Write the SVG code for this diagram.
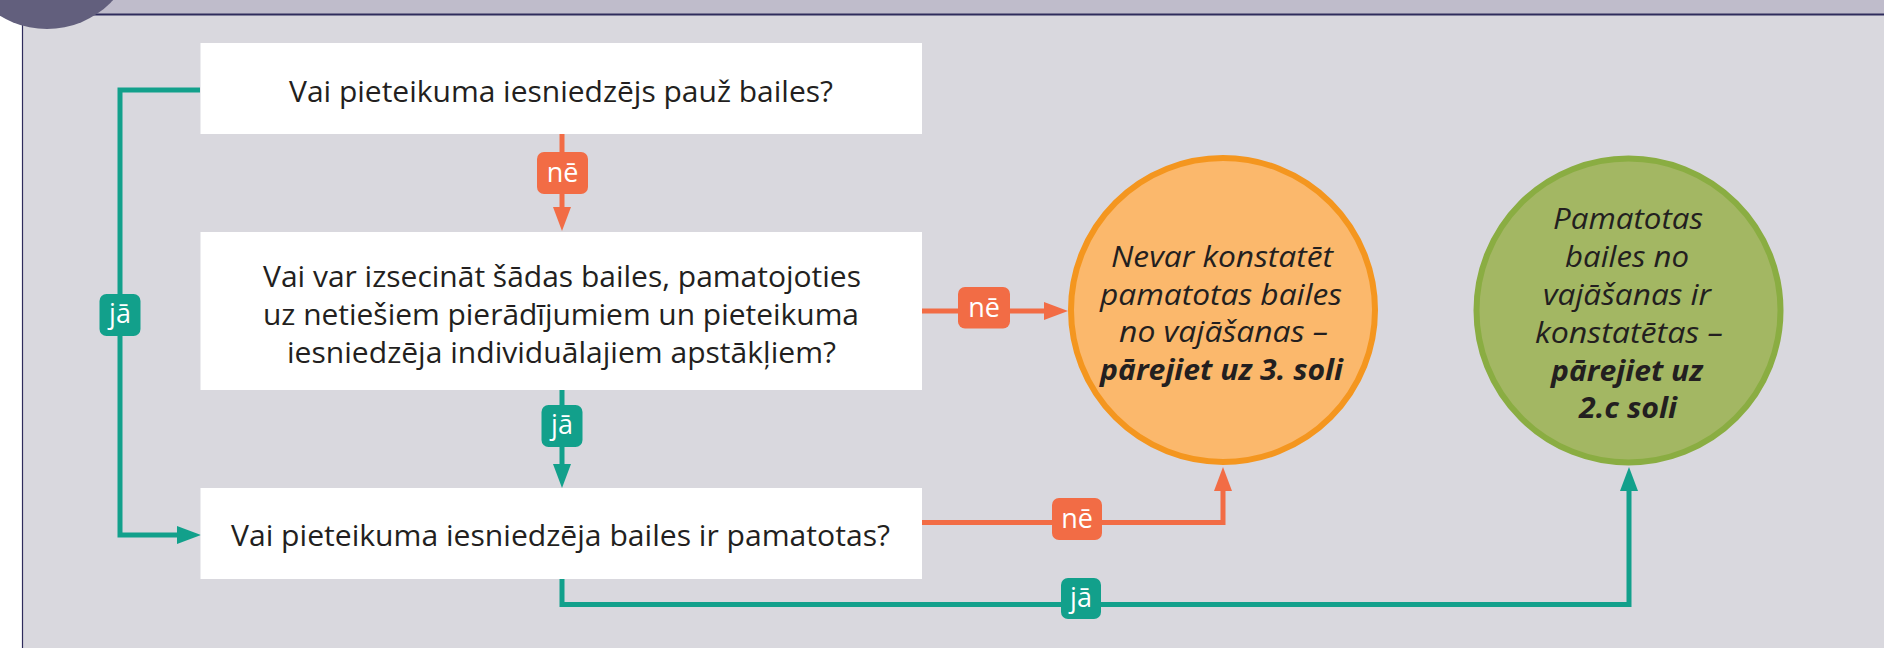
<svg xmlns="http://www.w3.org/2000/svg" width="1884" height="648" viewBox="0 0 1884 648">
  <style>
    .box { fill: #ffffff; }
    .q { font-family: "Open Sans", "Noto Sans", sans-serif; font-size: 30px; fill: #231f20; text-anchor: middle; }
    .ct { font-family: "Open Sans", "Noto Sans", sans-serif; font-size: 29px; font-style: italic; fill: #231f20; text-anchor: middle; }
    .ct b, .bold { font-weight: 700; }
    .lbl { font-family: "Open Sans", "Noto Sans", sans-serif; font-size: 27px; fill: #ffffff; text-anchor: middle; }
    .teal { stroke: #12a08b; stroke-width: 5; fill: none; stroke-linejoin: miter; }
    .orange { stroke: #f26c45; stroke-width: 5; fill: none; stroke-linejoin: miter; }
    .tealf { fill: #12a08b; }
    .orangef { fill: #f26c45; }
  </style>
  <defs>
    <marker id="arrT" markerUnits="userSpaceOnUse" markerWidth="24" markerHeight="18" refX="4" refY="9" orient="auto">
      <path d="M0,0 L24,9 L0,18 z" fill="#12a08b"/>
    </marker>
    <marker id="arrO" markerUnits="userSpaceOnUse" markerWidth="24" markerHeight="18" refX="4" refY="9" orient="auto">
      <path d="M0,0 L24,9 L0,18 z" fill="#f26c45"/>
    </marker>
  </defs>

  <!-- background -->
  <g id="background">
    <rect x="0" y="0" width="1884" height="648" fill="#ffffff"/>
    <rect x="0" y="0" width="1884" height="14.5" fill="#bfbccb"/>
    <rect x="22" y="14.5" width="1862" height="634" fill="#d9d8de"/>
    <line x1="0" y1="14.5" x2="1884" y2="14.5" stroke="#2f2c5c" stroke-width="2"/>
    <line x1="22.5" y1="14.5" x2="22.5" y2="648" stroke="#2f2c5c" stroke-width="1.2"/>
    <circle cx="47" cy="-61" r="90" fill="#625f7d"/>
  </g>

  <!-- connectors -->
  <g id="connectors">
    <path class="teal" d="M200,90 H120 V535 H181" marker-end="url(#arrT)"/>
    <path class="orange" d="M562,134 V211" marker-end="url(#arrO)"/>
    <path class="orange" d="M922,311 H1048" marker-end="url(#arrO)"/>
    <path class="teal" d="M562,390 V468" marker-end="url(#arrT)"/>
    <path class="orange" d="M922,522.5 H1223 V487" marker-end="url(#arrO)"/>
    <path class="teal" d="M562,579 V604.5 H1629 V487" marker-end="url(#arrT)"/>

    <g id="label-ne-1">
      <rect class="orangef" x="537" y="152" width="51" height="42" rx="7"/>
      <text class="lbl" x="562.5" y="182">nē</text>
    </g>
    <g id="label-ja-1">
      <rect class="tealf" x="99.5" y="294" width="41" height="42" rx="7"/>
      <text class="lbl" x="120" y="323">jā</text>
    </g>
    <g id="label-ja-2">
      <rect class="tealf" x="541.5" y="405" width="41" height="42" rx="7"/>
      <text class="lbl" x="562" y="434">jā</text>
    </g>
    <g id="label-ne-2">
      <rect class="orangef" x="958" y="287" width="52" height="41.5" rx="7"/>
      <text class="lbl" x="984" y="316.5">nē</text>
    </g>
    <g id="label-ne-3">
      <rect class="orangef" x="1052" y="498" width="50" height="42" rx="7"/>
      <text class="lbl" x="1077" y="528">nē</text>
    </g>
    <g id="label-ja-3">
      <rect class="tealf" x="1061" y="578" width="40" height="41" rx="7"/>
      <text class="lbl" x="1081" y="607">jā</text>
    </g>
  </g>

  <!-- nodes -->
  <g id="q1">
    <rect class="box" x="200.5" y="43" width="721.5" height="91"/>
    <text class="q" x="561" y="101.5" textLength="544" lengthAdjust="spacingAndGlyphs">Vai pieteikuma iesniedzējs pauž bailes?</text>
  </g>
  <g id="q2">
    <rect class="box" x="200.5" y="232" width="721.5" height="158"/>
    <text class="q" x="562" y="287" textLength="598" lengthAdjust="spacingAndGlyphs">Vai var izsecināt šādas bailes, pamatojoties</text>
    <text class="q" x="561" y="325" textLength="596" lengthAdjust="spacingAndGlyphs">uz netiešiem pierādījumiem un pieteikuma</text>
    <text class="q" x="561.5" y="363" textLength="549" lengthAdjust="spacingAndGlyphs">iesniedzēja individuālajiem apstākļiem?</text>
  </g>
  <g id="q3">
    <rect class="box" x="200.5" y="488" width="721.5" height="91"/>
    <text class="q" x="560.5" y="545.5" textLength="659" lengthAdjust="spacingAndGlyphs">Vai pieteikuma iesniedzēja bailes ir pamatotas?</text>
  </g>
  <g id="result-no">
    <circle cx="1223" cy="310" r="152" fill="#fbb86c" stroke="#f4961f" stroke-width="6"/>
    <text class="ct" x="1222" y="267" textLength="222" lengthAdjust="spacingAndGlyphs">Nevar konstatēt</text>
    <text class="ct" x="1221" y="304.5" textLength="242" lengthAdjust="spacingAndGlyphs">pamatotas bailes</text>
    <text class="ct" x="1223.5" y="342" textLength="209" lengthAdjust="spacingAndGlyphs">no vajāšanas –</text>
    <text class="ct bold" x="1221.5" y="380" textLength="243" lengthAdjust="spacingAndGlyphs">pārejiet uz 3. soli</text>
  </g>
  <g id="result-yes">
    <circle cx="1628.5" cy="310.5" r="152" fill="#a3b763" stroke="#8aad42" stroke-width="6"/>
    <text class="ct" x="1628" y="229" textLength="150" lengthAdjust="spacingAndGlyphs">Pamatotas</text>
    <text class="ct" x="1627" y="267" textLength="124" lengthAdjust="spacingAndGlyphs">bailes no</text>
    <text class="ct" x="1627" y="305" textLength="168" lengthAdjust="spacingAndGlyphs">vajāšanas ir</text>
    <text class="ct" x="1629" y="343" textLength="188" lengthAdjust="spacingAndGlyphs">konstatētas –</text>
    <text class="ct bold" x="1627" y="380.5" textLength="152" lengthAdjust="spacingAndGlyphs">pārejiet uz</text>
    <text class="ct bold" x="1628" y="418" textLength="98" lengthAdjust="spacingAndGlyphs">2.c soli</text>
  </g>
</svg>
